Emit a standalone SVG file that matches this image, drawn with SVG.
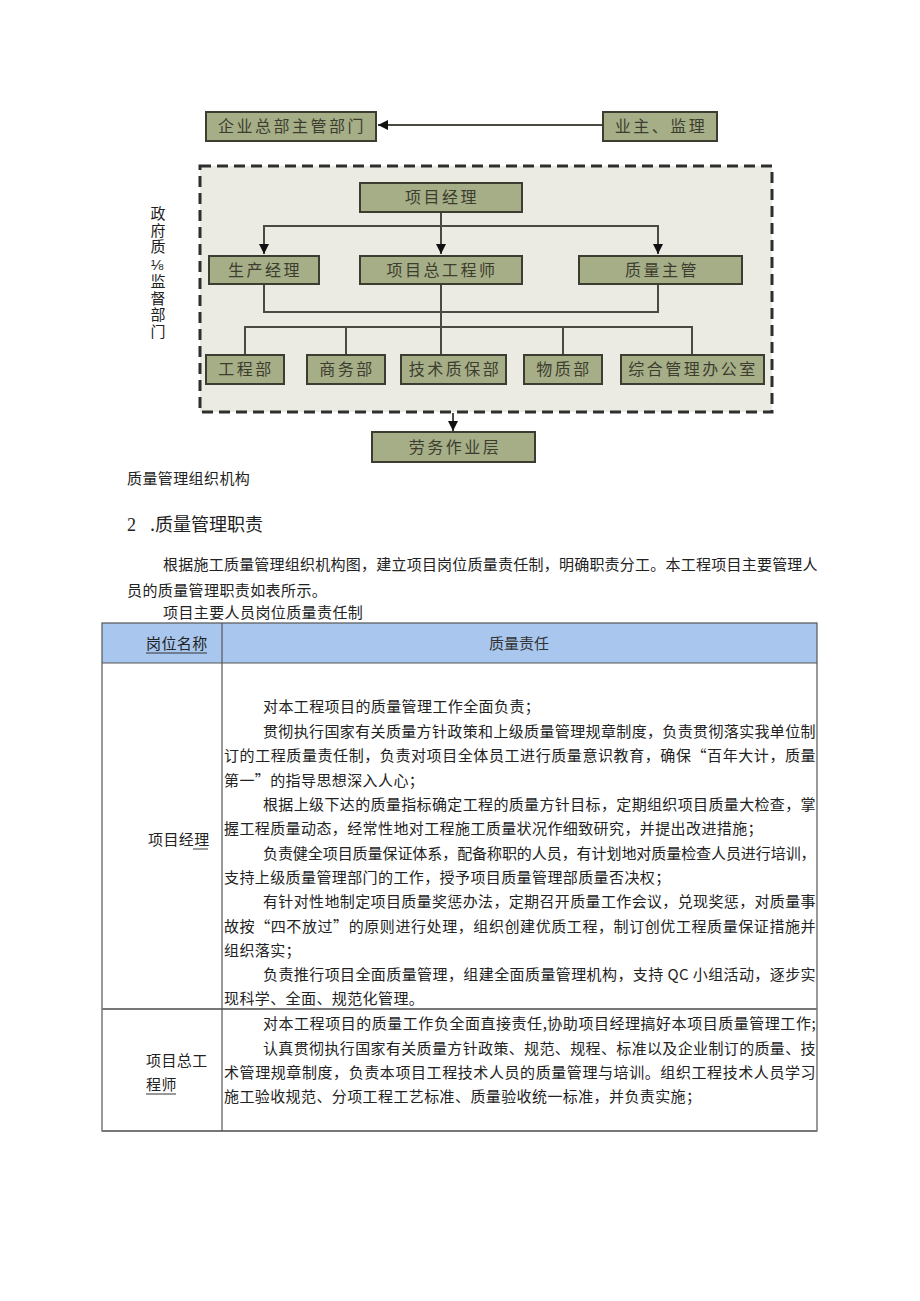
<svg xmlns="http://www.w3.org/2000/svg" width="920" height="1301" viewBox="0 0 920 1301">
<style>
.box{fill:#a6ae88;stroke:#3c3d30;stroke-width:2}
.bt{font-family:"Noto Sans CJK SC","Noto Sans CJK TC",sans-serif;font-size:16px;fill:#3c3d2e;text-anchor:middle;letter-spacing:2.5px}
.ln{fill:none;stroke:#4a4a40;stroke-width:2}
.t{font-family:"Noto Sans CJK SC","Noto Sans CJK TC",sans-serif;font-size:15px;fill:#222;letter-spacing:0.4px}
.tc{font-family:"Noto Sans CJK SC","Noto Sans CJK TC",sans-serif;font-size:15px;fill:#333;text-anchor:middle}
.grid{fill:none;stroke:#555;stroke-width:1.2}
</style>
<defs>
<marker id="ah" viewBox="0 0 10 10" refX="10" refY="5" markerWidth="5" markerHeight="5" orient="auto" markerUnits="strokeWidth">
<path d="M0,0 L10,5 L0,10 z" fill="#111"/>
</marker>
</defs>
<rect width="920" height="1301" fill="#ffffff"/>

<g id="container">
<rect x="200" y="166" width="572" height="246" fill="#ebebe3" stroke="#2e2e2e" stroke-width="3" stroke-dasharray="11 6"/>
</g>

<g id="connectors">
<line class="ln" x1="603" y1="125" x2="378" y2="125" marker-end="url(#ah)"/>
<line class="ln" x1="441" y1="212" x2="441" y2="226"/>
<polyline class="ln" points="264,240 264,226 658,226 658,240"/>
<line class="ln" x1="264" y1="226" x2="264" y2="254" marker-end="url(#ah)"/>
<line class="ln" x1="441" y1="226" x2="441" y2="254" marker-end="url(#ah)"/>
<line class="ln" x1="658" y1="226" x2="658" y2="254" marker-end="url(#ah)"/>
<polyline class="ln" points="264,285 264,312 658,312 658,285"/>
<line class="ln" x1="441" y1="284" x2="441" y2="355"/>
<polyline class="ln" points="245,355 245,327 692,327 692,355"/>
<line class="ln" x1="346" y1="327" x2="346" y2="355"/>
<line class="ln" x1="563" y1="327" x2="563" y2="355"/>
<line class="ln" x1="453" y1="413" x2="453" y2="431" marker-end="url(#ah)"/>
</g>

<g id="n-hq"><rect class="box" x="206" y="112" width="170" height="29"/><text class="bt" x="292" y="132">企业总部主管部门</text></g>
<g id="n-owner"><rect class="box" x="603" y="112" width="114" height="29"/><text class="bt" x="661" y="132">业主、监理</text></g>
<g id="n-pm"><rect class="box" x="360" y="183" width="162" height="29"/><text class="bt" x="442" y="203">项目经理</text></g>
<g id="n-prod"><rect class="box" x="209" y="256" width="110" height="28"/><text class="bt" x="265" y="276">生产经理</text></g>
<g id="n-chief"><rect class="box" x="360" y="256" width="162" height="28"/><text class="bt" x="442" y="276">项目总工程师</text></g>
<g id="n-qm"><rect class="box" x="579" y="256" width="163" height="28"/><text class="bt" x="662" y="276">质量主管</text></g>
<g id="n-eng"><rect class="box" x="206" y="355" width="78" height="29"/><text class="bt" x="246" y="375">工程部</text></g>
<g id="n-biz"><rect class="box" x="307" y="355" width="78" height="29"/><text class="bt" x="347" y="375">商务部</text></g>
<g id="n-tech"><rect class="box" x="401" y="355" width="105" height="29"/><text class="bt" x="455" y="375">技术质保部</text></g>
<g id="n-mat"><rect class="box" x="524" y="355" width="78" height="29"/><text class="bt" x="564" y="375">物质部</text></g>
<g id="n-office"><rect class="box" x="621" y="355" width="143" height="29"/><text class="bt" x="693" y="375">综合管理办公室</text></g>
<g id="n-labor"><rect class="box" x="372" y="432" width="163" height="30"/><text class="bt" x="455" y="453">劳务作业层</text></g>

<g id="n-gov">
<text x="158" y="206" writing-mode="vertical-rl" font-family="'Noto Sans CJK SC','Noto Sans CJK TC',sans-serif" font-size="15" letter-spacing="1.5" fill="#1e1e1e">政府质⅛监督部门</text>
</g>

<g id="doc-text">
<text class="t" x="127" y="484">质量管理组织机构</text>
<text font-family="'Liberation Serif','Noto Sans CJK SC',serif" font-size="18" fill="#222" x="127" y="531">2</text>
<text font-family="'Noto Sans CJK SC',sans-serif" font-size="18" fill="#222" x="150" y="531">.质量管理职责</text>
<text class="t" x="163" y="570" textLength="655" lengthAdjust="spacing">根据施工质量管理组织机构图，建立项目岗位质量责任制，明确职责分工。本工程项目主要管理人</text>
<text class="t" x="127" y="596">员的质量管理职责如表所示。</text>
<text class="t" x="163" y="618">项目主要人员岗位质量责任制</text>
</g>

<g id="table">
<rect x="102" y="623" width="715" height="40" fill="#a9c7ee"/>
<rect class="grid" x="102" y="623" width="715" height="508"/>
<line class="grid" x1="102" y1="663" x2="817" y2="663"/>
<line x1="102" y1="1009" x2="817" y2="1009" stroke="#777" stroke-width="2"/>
<line x1="102" y1="1131" x2="817" y2="1131" stroke="#777" stroke-width="2"/>
<line class="grid" x1="222" y1="623" x2="222" y2="1131"/>
<text class="t" x="146" y="649" fill="#333">岗位名称</text>
<line x1="146" y1="653" x2="207" y2="653" stroke="#333" stroke-width="1"/>
<text class="tc" x="519" y="649">质量责任</text>

<text class="t" x="148" y="845">项目经理</text>
<line x1="193" y1="849" x2="208" y2="849" stroke="#333" stroke-width="1"/>

<text class="t" x="263" y="712">对本工程项目的质量管理工作全面负责；</text>
<text class="t" x="263" y="737" textLength="553" lengthAdjust="spacing">贯彻执行国家有关质量方针政策和上级质量管理规章制度，负责贯彻落实我单位制</text>
<text class="t" x="224" y="761" textLength="592" lengthAdjust="spacing">订的工程质量责任制，负责对项目全体员工进行质量意识教育，确保“百年大计，质量</text>
<text class="t" x="224" y="786">第一”的指导思想深入人心；</text>
<text class="t" x="263" y="810" textLength="553" lengthAdjust="spacing">根据上级下达的质量指标确定工程的质量方针目标，定期组织项目质量大检查，掌</text>
<text class="t" x="224" y="834">握工程质量动态，经常性地对工程施工质量状况作细致研究，并提出改进措施；</text>
<text class="t" x="263" y="859" textLength="553" lengthAdjust="spacing">负责健全项目质量保证体系，配备称职的人员，有计划地对质量检查人员进行培训，</text>
<text class="t" x="224" y="883">支持上级质量管理部门的工作，授予项目质量管理部质量否决权；</text>
<text class="t" x="263" y="907" textLength="553" lengthAdjust="spacing">有针对性地制定项目质量奖惩办法，定期召开质量工作会议，兑现奖惩，对质量事</text>
<text class="t" x="224" y="932" textLength="592" lengthAdjust="spacing">故按“四不放过”的原则进行处理，组织创建优质工程，制订创优工程质量保证措施并</text>
<text class="t" x="224" y="956">组织落实；</text>
<text class="t" x="263" y="980" textLength="553" lengthAdjust="spacing">负责推行项目全面质量管理，组建全面质量管理机构，支持 QC 小组活动，逐步实</text>
<text class="t" x="224" y="1004">现科学、全面、规范化管理。</text>

<text class="t" x="146" y="1066">项目总工</text>
<text class="t" x="146" y="1090">程师</text>
<line x1="146" y1="1094" x2="176" y2="1094" stroke="#333" stroke-width="1"/>

<text class="t" x="263" y="1029" textLength="553" lengthAdjust="spacing">对本工程项目的质量工作负全面直接责任,协助项目经理搞好本项目质量管理工作;</text>
<text class="t" x="263" y="1054" textLength="553" lengthAdjust="spacing">认真贯彻执行国家有关质量方针政策、规范、规程、标准以及企业制订的质量、技</text>
<text class="t" x="224" y="1078" textLength="592" lengthAdjust="spacing">术管理规章制度，负责本项目工程技术人员的质量管理与培训。组织工程技术人员学习</text>
<text class="t" x="224" y="1102">施工验收规范、分项工程工艺标准、质量验收统一标准，并负责实施；</text>
</g>
</svg>
